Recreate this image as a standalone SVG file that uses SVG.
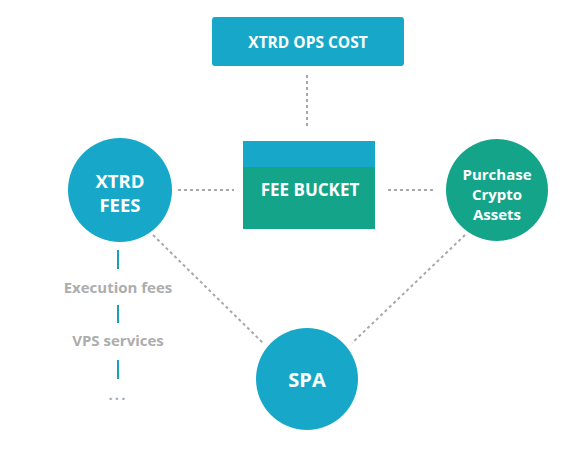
<svg xmlns="http://www.w3.org/2000/svg" width="570" height="454" viewBox="0 0 570 454">
<style>
.blue{fill:#17a8c9}
.green{fill:#14a48a}
.wt{fill:#fff;font-family:"Open Sans",Lato,sans-serif;font-weight:bold;text-anchor:middle}
.gt{fill:#adadad;font-family:"Open Sans",Lato,sans-serif;font-weight:bold;font-size:15px;text-anchor:middle}
.dash{stroke:#a8a8a8;stroke-width:2;stroke-dasharray:3 3;fill:none}
.seg{stroke:#17a0b8;stroke-width:2;fill:none}
</style>
<rect width="570" height="454" fill="#fff"/>
<g id="connectors">
<line class="dash" x1="307" y1="75" x2="307" y2="127"/>
<line class="dash" x1="178" y1="190" x2="234" y2="190"/>
<line class="dash" x1="388" y1="190" x2="436" y2="190"/>
<line class="dash" x1="153" y1="235" x2="263" y2="343"/>
<line class="dash" x1="465" y1="235" x2="352" y2="343"/>
<line class="seg" x1="118" y1="250" x2="118" y2="269"/>
<line class="seg" x1="118" y1="305" x2="118" y2="323"/>
<line class="seg" x1="118" y1="360" x2="118" y2="379"/>
</g>
<g id="ops-cost">
<rect class="blue" x="212" y="17" width="192" height="49" rx="3"/>
<text class="wt" x="308" y="48" font-size="15.5">XTRD OPS COST</text>
</g>
<g id="fee-bucket">
<rect class="green" x="243" y="141" width="132" height="88"/>
<rect class="blue" x="243" y="141" width="132" height="26"/>
<text class="wt" x="310" y="196" font-size="17">FEE BUCKET</text>
</g>
<g id="xtrd-fees">
<circle class="blue" cx="120" cy="190" r="52"/>
<text class="wt" x="120" y="188" font-size="18.5">XTRD</text>
<text class="wt" x="120" y="212" font-size="18.5">FEES</text>
</g>
<g id="purchase">
<circle class="green" cx="497" cy="190" r="51"/>
<text class="wt" x="497" y="180" font-size="15">Purchase</text>
<text class="wt" x="497" y="200" font-size="15">Crypto</text>
<text class="wt" x="497" y="220" font-size="15">Assets</text>
</g>
<g id="spa">
<circle class="blue" cx="307" cy="379" r="51"/>
<text class="wt" x="307" y="387" font-size="20">SPA</text>
</g>
<g id="list">
<text class="gt" x="118" y="293">Execution fees</text>
<text class="gt" x="118" y="346">VPS services</text>
<text class="gt" x="118" y="400" letter-spacing="2">...</text>
</g>
</svg>
